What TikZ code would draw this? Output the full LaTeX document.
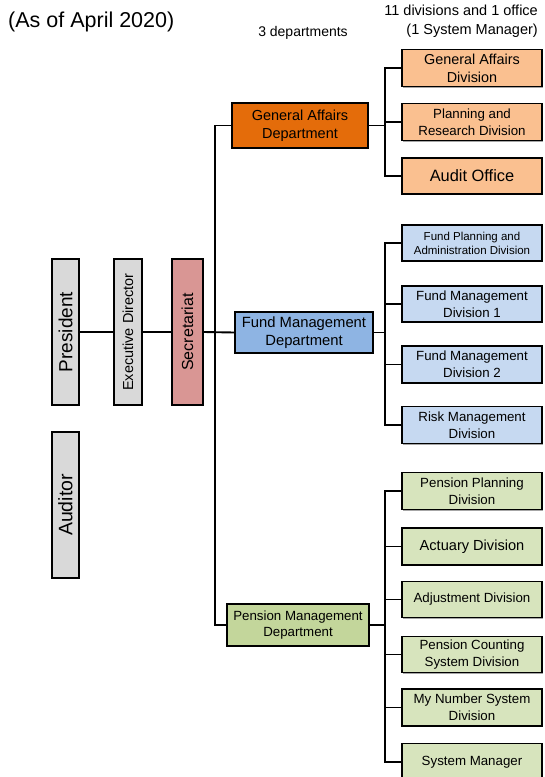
\documentclass[tikz,border=0pt]{standalone}
\usepackage{fontspec}
\setmainfont{Liberation Sans}
\usetikzlibrary{shadows}
\definecolor{gaDept}{HTML}{E46C0A}
\definecolor{gaDiv}{HTML}{FAC090}
\definecolor{fmDept}{HTML}{8EB4E3}
\definecolor{fmDiv}{HTML}{C6D9F1}
\definecolor{pmDept}{HTML}{C3D69B}
\definecolor{pmDiv}{HTML}{D7E4BD}
\definecolor{grayBox}{HTML}{D9D9D9}
\definecolor{secBox}{HTML}{D99694}
\begin{document}
\begin{tikzpicture}[x=1pt,y=-1pt,
  box/.style={draw=black, line width=1.7pt, align=center, inner sep=1pt,
    drop shadow={shadow xshift=1.2pt, shadow yshift=-1.2pt, fill=black, opacity=0.35}},
  divbox/.style={box, minimum width=140pt, minimum height=36pt, font=\fontsize{13.3}{16.8}\selectfont},
  vbox/.style={box, rotate=90, minimum width=146pt},
  link/.style={line width=1.9pt, line join=miter}]
\useasboundingbox (0,0) rectangle (545,777);

% header texts
\node[font=\fontsize{21.5}{25}\selectfont, anchor=west, inner sep=0pt] (asof) at (8,22) {(As of April 2020)};
\node[font=\fontsize{14}{17}\selectfont, inner sep=0pt] (deps) at (303,33) {3 departments};
\node[font=\fontsize{14.5}{19}\selectfont, align=right, anchor=north east, inner sep=0pt] (divs) at (538,5) {11 divisions and 1 office\\(1 System Manager)};

% left column
\node[vbox, fill=grayBox, minimum height=27pt, font=\fontsize{19}{22}\selectfont] (pres) at (65.5,332) {President};
\node[vbox, fill=grayBox, minimum height=28pt, font=\fontsize{14.5}{17}\selectfont] (ed) at (128,332) {Executive Director};
\node[vbox, fill=secBox, minimum height=31pt, font=\fontsize{16}{19}\selectfont] (sec) at (187.5,332) {Secretariat};
\node[vbox, fill=grayBox, minimum height=27pt, font=\fontsize{19.5}{22}\selectfont] (aud) at (65.5,505) {Auditor};

% departments
\node[box, fill=gaDept, minimum width=136pt, minimum height=45pt, font=\fontsize{14.5}{18}\selectfont] (ga) at (300,125.5) {General Affairs\\Department};
\node[box, fill=fmDept, minimum width=138pt, minimum height=41pt, font=\fontsize{14.8}{17.5}\selectfont] (fm) at (304,332.5) {Fund Management\\Department};
\node[box, fill=pmDept, minimum width=142pt, minimum height=42pt, font=\fontsize{13.3}{16.5}\selectfont] (pm) at (298,625) {Pension Management\\Department};

% general affairs divisions
\node[divbox, fill=gaDiv, minimum height=37pt, font=\fontsize{14.4}{18}\selectfont] (gad) at (472,68) {General Affairs\\Division};
\node[divbox, fill=gaDiv, minimum height=37pt] (pr) at (472,122) {Planning and\\Research Division};
\node[divbox, fill=gaDiv, font=\fontsize{16.4}{19}\selectfont] (ao) at (472,176) {Audit Office};

% fund management divisions
\node[divbox, fill=fmDiv, font=\fontsize{11.5}{14}\selectfont] (fpa) at (472,243) {Fund Planning and\\Administration Division};
\node[divbox, fill=fmDiv] (fm1) at (472,304) {Fund Management\\Division 1};
\node[divbox, fill=fmDiv, minimum height=37pt] (fm2) at (472,364.5) {Fund Management\\Division 2};
\node[divbox, fill=fmDiv, minimum height=37pt] (risk) at (472,425) {Risk Management\\Division};

% pension management divisions
\node[divbox, fill=pmDiv, minimum height=37pt] (pp) at (472,491) {Pension Planning\\Division};
\node[divbox, fill=pmDiv, minimum height=37pt, font=\fontsize{14.6}{17}\selectfont] (act) at (472,546.5) {Actuary Division};
\node[divbox, fill=pmDiv] (adj) at (472,599.5) {Adjustment Division};
\node[divbox, fill=pmDiv] (pc) at (472,654.5) {Pension Counting\\System Division};
\node[divbox, fill=pmDiv, minimum height=37pt] (mn) at (472,707.5) {My Number System\\Division};
\node[divbox, fill=pmDiv, minimum height=37pt] (sm) at (472,762) {System Manager};

% connectors, left part
\draw[link] (pres.south) -- (ed.north);
\draw[link] (ed.south) -- (sec.north);
\draw[link] (sec.south) -- (fm.west);

\coordinate (tx) at (215,0);
\draw[link] (ga.west) -- (ga.west -| tx) -- (pm.west -| tx) -- (pm.west);

\coordinate (bx) at (385,0);
% general affairs branch
\draw[link] (ga.east) -- (ga.east -| bx);
\draw[link] (gad.west) -- (gad.west -| bx) -- (ao.west -| bx) -- (ao.west);
\draw[link] (pr.west -| bx) -- (pr.west);
% fund management branch
\draw[link] (fm.east) -- (fm.east -| bx);
\draw[link] (fpa.west) -- (fpa.west -| bx) -- (risk.west -| bx) -- (risk.west);
\foreach \d in {fm1,fm2} \draw[link] (\d.west -| bx) -- (\d.west);
% pension management branch
\draw[link] (pm.east) -- (pm.east -| bx);
\draw[link] (pp.west) -- (pp.west -| bx) -- (sm.west -| bx) -- (sm.west);
\foreach \d in {act,adj,pc,mn} \draw[link] (\d.west -| bx) -- (\d.west);
\end{tikzpicture}
\end{document}
